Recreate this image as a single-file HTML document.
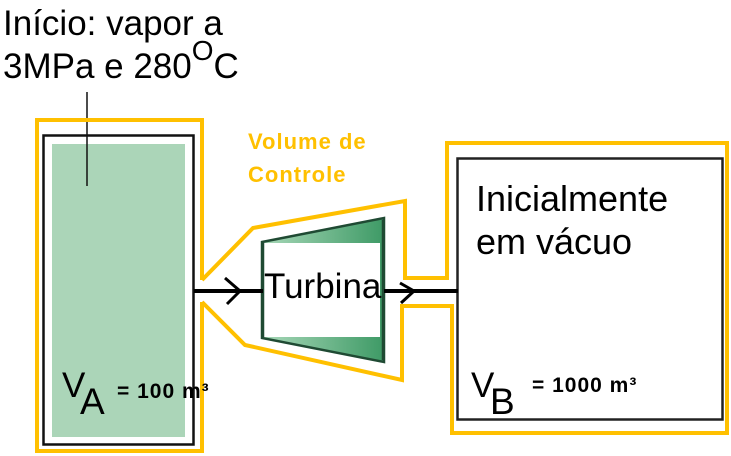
<!DOCTYPE html>
<html><head><meta charset="utf-8"><style>
html,body{margin:0;padding:0;background:#fff;}
svg{display:block;}
text{font-family:"Liberation Sans",Arial,sans-serif;}
</style></head><body>
<svg width="731" height="456" viewBox="0 0 731 456" xmlns="http://www.w3.org/2000/svg">
<defs>
<linearGradient id="g" x1="0" y1="0" x2="1" y2="0">
<stop offset="0" stop-color="#a8d8b8"/><stop offset="1" stop-color="#3e9a66"/>
</linearGradient>
</defs>
<rect x="52" y="144" width="133" height="293" fill="#abd5b8"/>
<rect x="43.5" y="135.5" width="150" height="309" fill="none" stroke="#111" stroke-width="2.5"/>
<line x1="87" y1="92" x2="87" y2="186" stroke="#111" stroke-width="1.5"/>
<rect x="457.5" y="158.5" width="265" height="261" fill="none" stroke="#222" stroke-width="2.5"/>
<polygon points="262,242 384,218 384,362 262,338" fill="url(#g)" stroke="#1f4a33" stroke-width="2.5"/>
<rect x="264" y="243" width="116" height="94" fill="#fff"/>
<line x1="263" y1="243" x2="263" y2="337" stroke="#1f4a33" stroke-width="2.5"/>
<line x1="383" y1="220" x2="383" y2="360" stroke="#1f4a33" stroke-width="2.5"/>
<line x1="194" y1="291" x2="263" y2="291" stroke="#000" stroke-width="4"/>
<line x1="384" y1="291" x2="458" y2="291" stroke="#000" stroke-width="4"/>
<polyline points="225,278 240,291 227,304" fill="none" stroke="#000" stroke-width="3"/>
<polyline points="400,283 414,291 401,303" fill="none" stroke="#000" stroke-width="3"/>
<g fill="none" stroke="#ffc000" stroke-width="4" stroke-linejoin="miter">
<polyline points="202,280 202,120 37,120 37,451 202,451 202,302"/>
<polyline points="202,280 253,228 405,201 405,278 447,278 447,143 727,143 727,433 452,433 452,306 402,306 402,380 245,345 202,302"/>
</g>
<text x="3" y="35" font-size="35" fill="#000">Início: vapor a</text>
<text x="3" y="78" font-size="35" fill="#000">3MPa e 280<tspan font-size="28" dy="-18">O</tspan><tspan dy="18">C</tspan></text>
<text x="248" y="149" font-size="22" font-weight="bold" letter-spacing="1" fill="#ffc000">Volume de</text>
<text x="248" y="182" font-size="22" font-weight="bold" letter-spacing="1" fill="#ffc000">Controle</text>
<text x="264" y="298" font-size="35" fill="#000">Turbina</text>
<text x="476" y="211" font-size="36" fill="#000">Inicialmente</text>
<text x="476" y="254" font-size="36" fill="#000">em vácuo</text>
<text x="62" y="397" font-size="35" fill="#000">V</text>
<text x="80" y="414" font-size="37" fill="#000">A</text>
<text x="117" y="398" font-size="21" font-weight="bold" letter-spacing="1" fill="#000">= 100 m³</text>
<text x="471" y="397" font-size="35" fill="#000">V</text>
<text x="490" y="414" font-size="37" fill="#000">B</text>
<text x="532" y="392" font-size="21" font-weight="bold" letter-spacing="1" fill="#000">= 1000 m³</text>
</svg>
</body></html>
